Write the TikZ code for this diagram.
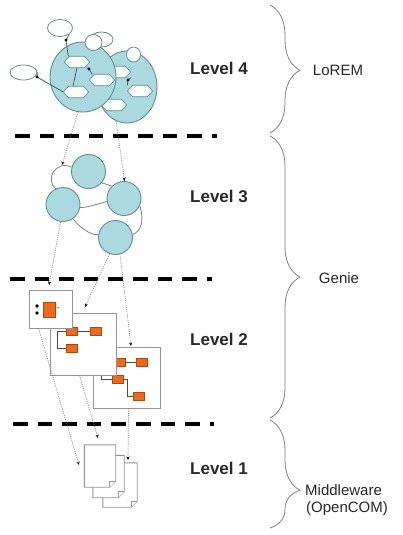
\documentclass[tikz,border=0pt]{standalone}
\usepackage{fontspec}
\setmainfont{Liberation Sans}
\usetikzlibrary{shapes.geometric,arrows.meta,decorations.pathreplacing,backgrounds}
\definecolor{cfill}{RGB}{170,218,224}
\definecolor{cedge}{RGB}{100,140,150}
\definecolor{corange}{RGB}{240,105,25}
\definecolor{cbox}{RGB}{150,150,150}
\definecolor{ctxt}{RGB}{40,40,40}
\begin{document}
\begin{tikzpicture}[x=1pt,y=-1pt,
  bigcirc/.style={ellipse, draw=cedge, fill=cfill, line width=0.9pt, inner sep=0},
  nodethree/.style={circle, draw=cedge, fill=cfill, line width=0.9pt, minimum size=34, inner sep=0},
  smallell/.style={ellipse, draw=cedge!80!gray, fill=white, line width=0.8pt, inner sep=0},
  hexa/.style={rectangle, inner sep=0, minimum width=25, minimum height=11},
  hexline/.style={draw=cedge, fill=white, line width=0.7pt},
  wire/.style={draw=cedge!60!black, line width=0.7pt},
  netwire/.style={draw=gray, line width=0.8pt},
  sepline/.style={line width=4pt, dash pattern=on 14.6pt off 10pt},
  dotarrow/.style={draw=gray, line width=0.7pt, dash pattern=on 1pt off 1.2pt, -{Stealth[length=3.5pt,width=3pt,black]}},
  compbox/.style={rectangle, draw=cbox, fill=white, line width=0.9pt, inner sep=0},
  ocomp/.style={rectangle, draw=corange!70!black, fill=corange, line width=0.5pt, inner sep=0, minimum width=11, minimum height=8},
  cwire/.style={draw=gray!60!black, line width=0.7pt},
  docbox/.style={draw=cbox, fill=white, line width=0.9pt},
  docanchor/.style={inner sep=0, minimum width=31, minimum height=42},
  brc/.style={decorate, decoration={brace, amplitude=30pt}, draw=gray, line width=0.8pt},
  lvl/.style={font=\bfseries\fontsize{17}{20}\selectfont, text=ctxt, anchor=west, inner sep=0},
  grp/.style={font=\fontsize{15}{18}\selectfont, text=ctxt, inner sep=0}
]
\useasboundingbox (0,0) rectangle (402,535);
\begin{scope}[on background layer]
\fill[white] (0,0) rectangle (402,535);
\end{scope}

% ---------- separators ----------
\draw[sepline] (15,136) -- (217,136);
\draw[sepline] (10,279) -- (212,279);
\draw[sepline] (13,424) -- (214,424);

% ---------- Level 4 ----------
\node[bigcirc, minimum width=60, minimum height=72] (c2) at (127,87) {};
\node[hexa] (h4) at (118,72) {};
\node[hexa] (h5) at (140,91) {};
\node[hexa] (h6) at (114,105) {};
\foreach \h in {h4,h5,h6}{
  \filldraw[hexline] (\h.west) -- ([xshift=5.5pt]\h.north west) -- ([xshift=-5.5pt]\h.north east) -- (\h.east) -- ([xshift=-5.5pt]\h.south east) -- ([xshift=5.5pt]\h.south west) -- cycle;
}
\coordinate (p45) at (128,80);
\draw[wire] (h4.south east) -- (p45) -- (h5.north west);
\fill[black] (p45) circle (1.6);

\node[bigcirc, minimum width=66, minimum height=70] (c1) at (83,77) {};
\node[hexa] (h1) at (77,62) {};
\node[hexa] (h2) at (102,80) {};
\node[hexa] (h3) at (76,92) {};
\foreach \h in {h1,h2,h3}{
  \filldraw[hexline] (\h.west) -- ([xshift=5.5pt]\h.north west) -- ([xshift=-5.5pt]\h.north east) -- (\h.east) -- ([xshift=-5.5pt]\h.south east) -- ([xshift=5.5pt]\h.south west) -- cycle;
}
\coordinate (p12) at (89,69);
\draw[wire] (h1.south) -- ([xshift=-3pt]h3.north);
\draw[wire] ([xshift=-3pt]h1.south east) -- (p12) -- ([xshift=3pt]h2.north west);
\fill[black] (p12) circle (1.6);

\node[smallell, minimum width=25, minimum height=17] (e1) at (60,28) {};
\node[smallell, minimum width=27, minimum height=15] (e3) at (23.5,72.5) {};
\node[smallell, minimum width=23, minimum height=15] (e2) at (101.5,39.5) {};
\node[smallell, minimum width=17, minimum height=16] (s1) at (93.5,42.5) {};
\node[smallell, minimum width=14, minimum height=15] (s2) at (133.5,54.5) {};
\coordinate (p1) at (66,40);
\coordinate (p3) at (37,77);
\draw[wire] ([xshift=4pt]h1.north west) -- (p1) -- (e1.south east);
\fill[black] (p1) circle (1.6);
\draw[wire] (h3.west) -- (p3) -- (e3.east);
\fill[black] (p3) circle (1.6);

% ---------- Level 3 ----------
\node[nodethree] (A) at (88.5,171.5) {};
\node[nodethree] (B) at (63,204.5) {};
\node[nodethree] (C) at (124,198.5) {};
\node[nodethree] (D) at (115.5,237.5) {};
\begin{scope}[on background layer]
\draw[netwire] (A.165) .. controls (55,160) and (45,180) .. (B.115);
\draw[netwire] (A.-40) -- (C.135);
\draw[netwire] (B.-10) .. controls (85,208) and (98,204) .. (C.190);
\draw[netwire] (B.-55) .. controls (80,228) and (92,236) .. (D.170);
\draw[netwire] (C.-25) .. controls (145,222) and (140,232) .. (D.10);
\end{scope}

\coordinate (t0) at (62,165);
\draw[dotarrow] (c1.262) -- (t0);
\draw[dotarrow] (c2.252) -- (C.88);

% ---------- Level 2 ----------
\node[compbox, minimum width=67, minimum height=61] (b3) at (126.5,377.5) {};
\node[ocomp] (o4) at (119.5,362.5) {};
\node[ocomp] (o5) at (141.5,362.5) {};
\node[ocomp] (o6) at (117.5,379) {};
\node[ocomp] (o7) at (138.5,396.5) {};
\draw[cwire] (o4) -- (o5);
\draw[cwire] (o6.east) -- (127.7,379) -- (127.7,396.5) -- (o7.west);
\draw[cwire] (o6.west) -- (101.7,379) -- (101.7,370);

\node[compbox, minimum width=66, minimum height=62] (b2) at (83,344) {};
\node[ocomp] (o1) at (71.5,331.5) {};
\node[ocomp] (o2) at (95.5,331.5) {};
\node[ocomp] (o3) at (71.5,348.5) {};
\draw[cwire] (o1) -- (o2);
\draw[cwire] (o1.west) -- (57,331.5) -- (57,348.5) -- (o3.west);

\node[compbox, minimum width=43, minimum height=38] (b1) at (50.5,309) {};
\node[ocomp, minimum width=12, minimum height=15] (o0) at (49,309.5) {};
\fill[black] (37,306) circle (1.8);
\fill[black] (37,313) circle (1.8);
\draw[cwire, line width=0.5pt] (o0.east) ++(0,-2.5) -- ++(3,0) -- ++(1,1.5);

\coordinate (t1) at (49,285);
\coordinate (t2) at (85,307);
\coordinate (t3) at (131,346);
\draw[dotarrow] (B.262) -- (t1);
\draw[dotarrow] (D.250) -- (t2);
\draw[dotarrow] (D.285) -- (t3);

% ---------- Level 1 ----------
\node[docanchor, minimum width=34, minimum height=44] (d3) at (120,485) {};
\node[docanchor] (d2) at (108.5,476.5) {};
\node[docanchor] (d1) at (100,466) {};
\foreach \d in {d3,d2,d1}{
  \filldraw[docbox] (\d.north west) -- (\d.north east) -- ([yshift=6pt]\d.south east) -- ([xshift=-6pt]\d.south east) -- (\d.south west) -- cycle;
  \draw[docbox, line width=0.6pt] ([yshift=6pt]\d.south east) -- ([xshift=-6pt,yshift=6pt]\d.south east) -- ([xshift=-6pt]\d.south east);
}
\coordinate (t4) at (79,465);
\coordinate (t5) at (98,438);
\coordinate (t6) at (128,460);
\draw[dotarrow] ([xshift=10pt]b1.south west) -- (t4);
\draw[dotarrow] ([xshift=30pt]b2.south west) -- (t5);
\draw[dotarrow] ([xshift=36pt]b3.south west) -- (t6);

% ---------- labels ----------
\node[lvl] (L4) at (190,68) {Level 4};
\node[lvl] (L3) at (190,196) {Level 3};
\node[lvl] (L2) at (190,339) {Level 2};
\node[lvl] (L1) at (190,468) {Level 1};

% ---------- braces ----------
\draw[brc, decoration={aspect=0.51}] (270,5) -- (270,133);
\draw[brc, decoration={aspect=0.5}] (270,136) -- (270,418);
\draw[brc, decoration={aspect=0.65}] (270,420) -- (270,528);
\node[grp] (g1) at (338,70) {LoREM};
\node[grp] (g2) at (339,278) {Genie};
\node[grp, anchor=west] (g3) at (305,490) {Middleware};
\node[grp, anchor=west] (g4) at (306,509) {(OpenCOM)};
\end{tikzpicture}
\end{document}
